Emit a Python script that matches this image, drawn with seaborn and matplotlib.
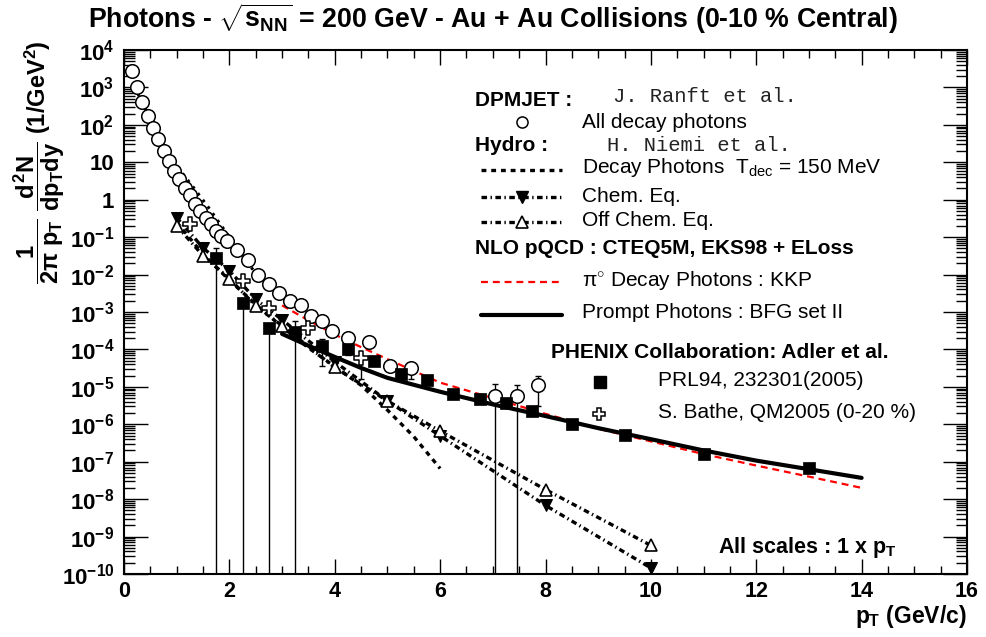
import matplotlib
matplotlib.use('Agg')
import matplotlib.pyplot as plt
import seaborn as sns
import numpy as np
from matplotlib.lines import Line2D
from matplotlib.ticker import MultipleLocator, LogLocator, FuncFormatter, NullFormatter

# ---- data ----
# DPMJET all decay photons (open circles)
circ_x = [0.15, 0.25, 0.35, 0.45, 0.55, 0.65, 0.75, 0.85, 0.95, 1.05, 1.15, 1.25,
          1.35, 1.45, 1.55, 1.65, 1.75, 1.85, 1.95, 2.15, 2.35, 2.55, 2.75, 2.95,
          3.15, 3.35, 3.55, 3.75, 3.95, 4.25, 4.65, 5.05, 5.45, 7.05, 7.45, 7.85]
circ_y = [2.8e3, 1.0e3, 4.0e2, 1.7e2, 8.1e1, 4.2e1, 2.0e1, 1.05e1, 5.8, 3.5, 2.1, 1.3,
          0.79, 0.51, 0.32, 0.22, 0.15, 0.11, 8.1e-2, 4.5e-2, 2.4e-2, 1.0e-2, 5.6e-3, 3.3e-3,
          2.0e-3, 1.5e-3, 7.6e-4, 5.9e-4, 3.1e-4, 2.0e-4, 1.6e-4, 3.5e-5, 3.2e-5, 5.8e-6, 5.8e-6, 1.1e-5]
circ_err_x = [5.45, 7.05, 7.45, 7.85]
circ_err_y = [3.2e-5, 5.8e-6, 5.8e-6, 1.1e-5]
circ_err_lo = [1.6e-5, 1e-12, 1e-12, 3.1e-6]
circ_err_hi = [3.2e-5, 1.2e-5, 1.15e-5, 1.9e-5]

# DPMJET dotted curve
dpm_x = [0.2, 0.3, 0.5, 0.7, 1.0, 1.3, 1.6, 2.0, 2.4, 2.8, 3.0]
dpm_y = [1.1e3, 5.2e2, 1.5e2, 4.0e1, 7.9, 2.3, 0.63, 0.1, 1.6e-2, 4.5e-3, 2.5e-3]

# PHENIX PRL94 (filled squares)
sq_x = [1.75, 2.25, 2.75, 3.25, 3.75, 4.25, 4.75, 5.25, 5.75, 6.25, 6.75, 7.25, 7.75,
        8.5, 9.5, 11.0, 13.0]
sq_y = [2.75e-2, 1.75e-3, 3.7e-4, 2.9e-4, 1.25e-4, 1.0e-4, 5.0e-5, 2.2e-5, 1.5e-5,
        6.3e-6, 4.7e-6, 3.6e-6, 2.2e-6, 1.0e-6, 5.1e-7, 1.65e-7, 6.9e-8]
sq_err_x = [1.75, 2.25, 2.75, 3.25, 3.75, 4.25, 9.5, 11.0, 13.0]
sq_err_y = [2.75e-2, 1.75e-3, 3.7e-4, 2.9e-4, 1.25e-4, 1.0e-4, 5.1e-7, 1.65e-7, 6.9e-8]
sq_err_lo = [1e-12, 1e-12, 1e-12, 1e-12, 3.6e-5, 7.0e-5, 4.2e-7, 1.4e-7, 6.0e-8]
sq_err_hi = [5.1e-2, 2.1e-3, 4.2e-4, 5.9e-4, 1.9e-4, 1.2e-4, 5.8e-7, 1.9e-7, 7.8e-8]

# S. Bathe QM2005 (open crosses)
cr_x = [1.25, 2.25, 2.75, 3.5, 4.5]
cr_y = [2.3e-1, 6.9e-3, 1.26e-3, 3.7e-4, 5.8e-5]
cr_err_x = [4.5]
cr_err_y = [5.8e-5]
cr_err_lo = [1.6e-5]
cr_err_hi = [6.5e-5]

# Hydro (H. Niemi et al.)
hyd_x = [1.0, 1.5, 2.0, 2.5, 3.0, 4.0, 5.0, 6.0, 8.0, 10.0]
chem_y = [3.3e-1, 5.2e-2, 1.26e-2, 2.2e-3, 6.2e-4, 4.7e-5, 4.2e-6, 4.9e-7, 6.8e-9, 1.45e-10]
offchem_y = [2.0e-1, 3.2e-2, 7.8e-3, 1.45e-3, 4.3e-4, 3.3e-5, 4.2e-6, 6.6e-7, 1.8e-8, 5.8e-10]
dec_x = [1.0, 1.5, 2.0, 2.5, 3.0, 3.5, 4.0, 4.5, 5.0, 5.5, 6.0]
dec_y = [2.5e-1, 3.5e-2, 7.1e-3, 1.6e-3, 4.0e-4, 1.1e-4, 3.5e-5, 1.1e-5, 2.4e-6, 4.7e-7, 6.6e-8]

# NLO pQCD
nlo_x = [3.0, 3.5, 4.0, 4.5, 5.0, 6.0, 7.0, 8.0, 9.0, 10.0, 11.0, 12.0, 13.0, 14.0]
pi0_y = [1.5e-3, 6.0e-4, 2.5e-4, 1.15e-4, 5.5e-5, 1.3e-5, 5.0e-6, 1.9e-6, 7.6e-7, 3.5e-7,
         1.6e-7, 7.9e-8, 4.0e-8, 2.0e-8]
prompt_y = [2.6e-4, 1.26e-4, 6.3e-5, 3.2e-5, 1.74e-5, 7.4e-6, 3.4e-6, 1.66e-6, 7.9e-7, 4.0e-7,
            2.0e-7, 1.07e-7, 6.3e-8, 3.7e-8]

y_exponents = list(range(-10, 5))

# ---- style ----
sns.set_theme(style='ticks')
plt.rcParams['font.family'] = ['Liberation Sans', 'DejaVu Sans']
plt.rcParams.update({
    'mathtext.fontset': 'custom',
    'mathtext.rm': 'Liberation Sans:bold',
    'mathtext.it': 'Liberation Sans:bold',
    'mathtext.bf': 'Liberation Sans:bold',
    'mathtext.sf': 'Liberation Sans',
    'lines.scale_dashes': False,
    'axes.linewidth': 1.5,
    'text.color': 'black',
})

DOT = (0, (3.5, 3.5))
DASHDOT = (0, (4, 2.5, 1, 2.5))
RED_DASH = (0, (5, 3.5))

fig = plt.figure(figsize=(9.86, 6.37), dpi=100)
ax = fig.add_axes([124 / 986, 63 / 637, 843 / 986, 524 / 637])
ax.set_yscale('log')


def fx(px):
    return px / 986


def fy(py):
    return 1 - py / 637


# curves
sns.lineplot(x=dpm_x, y=dpm_y, ax=ax, color='black', lw=2.2, linestyle=(0, (2, 4)),
             estimator=None, sort=False, legend=False)
sns.lineplot(x=dec_x, y=dec_y, ax=ax, color='black', lw=2.4, linestyle=DOT,
             estimator=None, sort=False, legend=False)
sns.lineplot(x=hyd_x, y=chem_y, ax=ax, color='black', lw=2.4, linestyle=DASHDOT,
             marker='v', markersize=8, markerfacecolor='black', markeredgecolor='black',
             estimator=None, sort=False, legend=False)
sns.lineplot(x=hyd_x, y=offchem_y, ax=ax, color='black', lw=2.4, linestyle=DASHDOT,
             marker='^', markersize=8, markerfacecolor='white', markeredgecolor='black',
             markeredgewidth=1.2, estimator=None, sort=False, legend=False)
sns.lineplot(x=nlo_x, y=pi0_y, ax=ax, color='red', lw=1.6, linestyle=RED_DASH,
             estimator=None, sort=False, legend=False)
sns.lineplot(x=nlo_x, y=prompt_y, ax=ax, color='black', lw=3.0,
             estimator=None, sort=False, legend=False)

# data points + error bars
eb = dict(fmt='none', ecolor='black', elinewidth=1.0, capsize=2.5, capthick=1.0, zorder=4)
ax.errorbar(circ_err_x, circ_err_y,
            yerr=[np.array(circ_err_y) - np.array(circ_err_lo), np.array(circ_err_hi) - np.array(circ_err_y)], **eb)
ax.errorbar(sq_err_x, sq_err_y,
            yerr=[np.array(sq_err_y) - np.array(sq_err_lo), np.array(sq_err_hi) - np.array(sq_err_y)], **eb)
ax.errorbar(cr_err_x, cr_err_y,
            yerr=[np.array(cr_err_y) - np.array(cr_err_lo), np.array(cr_err_hi) - np.array(cr_err_y)], **eb)

sns.scatterplot(x=circ_x, y=circ_y, ax=ax, marker='o', s=95, facecolor='white',
                edgecolor='black', linewidth=1.1, zorder=5, legend=False)
sns.scatterplot(x=sq_x, y=sq_y, ax=ax, marker='s', s=75, color='black',
                edgecolor='black', linewidth=0.5, zorder=6, legend=False)
sns.scatterplot(x=cr_x, y=cr_y, ax=ax, marker='P', s=110, facecolor='white',
                edgecolor='black', linewidth=1.1, zorder=6, legend=False)

# axes
ax.set_xlim(0, 16)
ax.set_ylim(1e-10, 1e4)
ax.set_xlabel('')
ax.set_ylabel('')
ax.xaxis.set_major_locator(MultipleLocator(2))
ax.xaxis.set_minor_locator(MultipleLocator(0.5))
ax.yaxis.set_major_locator(LogLocator(base=10, numticks=30))
ax.yaxis.set_minor_locator(LogLocator(base=10, subs=np.arange(2, 10), numticks=300))
ax.yaxis.set_minor_formatter(NullFormatter())


def ylab(v, pos):
    e = int(round(np.log10(v)))
    if e == 0:
        return '1'
    if e == 1:
        return '10'
    return r'$10^{%d}$' % e


ax.yaxis.set_major_formatter(FuncFormatter(ylab))
ax.set_yticks([10.0 ** e for e in y_exponents])
ax.tick_params(which='both', direction='in', top=True, right=True, colors='black', width=1.0)
ax.tick_params(axis='x', which='major', length=11, pad=5, labelsize=15.5)
ax.tick_params(axis='x', which='minor', length=5.5)
ax.tick_params(axis='y', which='major', length=17, pad=7, labelsize=16)
ax.tick_params(axis='y', which='minor', length=8)
for lab in ax.get_xticklabels() + ax.get_yticklabels():
    lab.set_fontweight('bold')
for sp in ax.spines.values():
    sp.set_visible(True)
    sp.set_color('black')
    sp.set_linewidth(1.5)
ax.set_facecolor('white')
ax.grid(False)

# title and axis titles
fig.text(0.5, fy(19), r'Photons - $\sqrt{s_{NN}}$ = 200 GeV - Au + Au Collisions (0-10 % Central)',
         ha='center', va='center', fontsize=19.3, fontweight='bold')
fig.text(fx(39), fy(162), r'$\dfrac{1}{2\pi\ p_{T}}\ \dfrac{d^{2}N}{dp_{T}dy}$ (1/GeV$^{2}$)',
         rotation=90, ha='center', va='center', fontsize=17, fontweight='bold')
fig.text(fx(967), fy(617), r'$p_{T}$ (GeV/c)', ha='right', va='center', fontsize=16.5, fontweight='bold')
fig.text(fx(718), fy(548), r'All scales : 1 x $p_{T}$', ha='left', va='center', fontsize=15.5,
         fontweight='bold')

# legend block
hdr = dict(ha='left', va='center', fontsize=15, fontweight='bold')
ent = dict(ha='left', va='center', fontsize=15)
mono = dict(ha='left', va='center', fontsize=14.8, family='Liberation Mono', color='#222222')

fig.text(fx(475), fy(100), 'DPMJET :', **hdr)
fig.text(fx(613), fy(97), 'J. Ranft et al.', **mono)
fig.add_artist(Line2D([fx(522)], [fy(122)], transform=fig.transFigure, marker='o', ms=8,
                      mfc='white', mec='black', mew=1.1, ls='none'))
fig.text(fx(582), fy(122), 'All decay photons', **ent)
fig.text(fx(475), fy(146), 'Hydro :', **hdr)
fig.text(fx(607), fy(146), 'H. Niemi et al.', **mono)

fig.add_artist(Line2D([fx(481), fx(562)], [fy(170), fy(170)], transform=fig.transFigure,
                      color='black', lw=2.4, ls=DOT))
fig.text(fx(582), fy(167), r'Decay Photons  $\mathsf{T_{dec}}$ = 150 MeV', **ent)
fig.add_artist(Line2D([fx(481), fx(562)], [fy(197), fy(197)], transform=fig.transFigure,
                      color='black', lw=2.4, ls=DASHDOT))
fig.add_artist(Line2D([fx(522)], [fy(197)], transform=fig.transFigure, marker='v', ms=8,
                      mfc='black', mec='black', ls='none'))
fig.text(fx(582), fy(196), 'Chem. Eq.', **ent)
fig.add_artist(Line2D([fx(481), fx(562)], [fy(222), fy(222)], transform=fig.transFigure,
                      color='black', lw=2.4, ls=DASHDOT))
fig.add_artist(Line2D([fx(522)], [fy(222)], transform=fig.transFigure, marker='^', ms=8,
                      mfc='white', mec='black', mew=1.2, ls='none'))
fig.text(fx(582), fy(221), 'Off Chem. Eq.', **ent)

fig.text(fx(475), fy(248), 'NLO pQCD : CTEQ5M, EKS98 + ELoss', **hdr)
fig.add_artist(Line2D([fx(481), fx(562)], [fy(282), fy(282)], transform=fig.transFigure,
                      color='red', lw=1.6, ls=RED_DASH))
fig.text(fx(582), fy(281), r'π$^{\mathsf{\circ}}$ Decay Photons : KKP', **ent)
fig.add_artist(Line2D([fx(481), fx(562)], [fy(315), fy(315)], transform=fig.transFigure,
                      color='black', lw=3.0))
fig.text(fx(582), fy(313), 'Prompt Photons : BFG set II', **ent)

fig.text(fx(551), fy(353), 'PHENIX Collaboration: Adler et al.', **hdr)
fig.add_artist(Line2D([fx(600)], [fy(382)], transform=fig.transFigure, marker='s', ms=8,
                      mfc='black', mec='black', ls='none'))
fig.text(fx(658), fy(381), 'PRL94, 232301(2005)', **ent)
fig.add_artist(Line2D([fx(599)], [fy(414)], transform=fig.transFigure, marker='P', ms=9,
                      mfc='white', mec='black', mew=1.1, ls='none'))
fig.text(fx(658), fy(413), 'S. Bathe, QM2005 (0-20 %)', **ent)

fig.savefig('out.png', dpi=100, facecolor='white')
